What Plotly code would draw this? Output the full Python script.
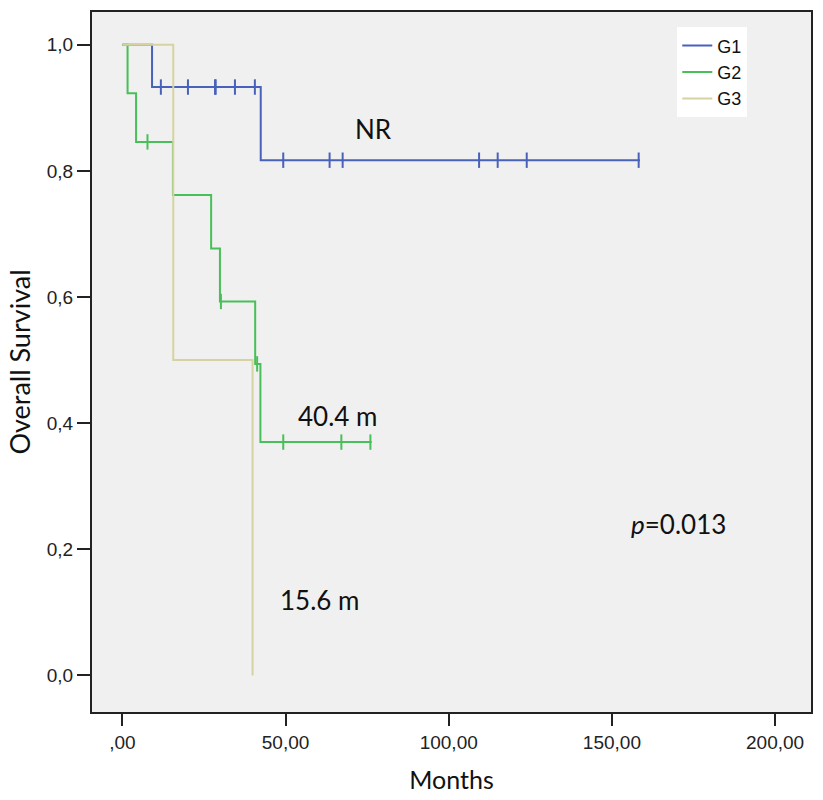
import plotly.graph_objects as go
import numpy as np

# ---- data ----
groups = ["G1", "G2", "G3"]
colors = ["#4861BA", "#48BF58", "#D6D2A2"]

# step curves: times where survival changes, and survival after each step
g1_times = [0.0, 9.1, 42.4, 158.6]
g1_surv = [1.0, 0.933, 0.817, 0.817]
g1_censor = [11.8, 20.1, 28.4, 28.6, 34.5, 40.6, 49.3, 63.5, 67.5, 109.3, 115.0, 123.9, 158.2]

g2_times = [0.0, 1.6, 4.2, 15.5, 27.2, 29.9, 40.7, 42.3, 76.4]
g2_surv = [1.0, 0.923, 0.846, 0.762, 0.677, 0.593, 0.494, 0.370, 0.370]
g2_censor = [7.7, 30.2, 41.3, 49.3, 67.1, 76.0]

g3_times = [0.0, 15.6, 39.9]
g3_surv = [1.0, 0.5, 0.0]
g3_censor = []

x_tickvals = [0, 50, 100, 150, 200]
x_ticktext = [",00", "50,00", "100,00", "150,00", "200,00"]
y_tickvals = [0.0, 0.2, 0.4, 0.6, 0.8, 1.0]
y_ticktext = ["0,0", "0,2", "0,4", "0,6", "0,8", "1,0"]

annotations_text = ["NR", "40.4 m", "15.6 m", "<i>p</i>=0.013"]
annotations_x = [76.9, 66.0, 60.4, 170.5]
annotations_y = [0.866, 0.412, 0.119, 0.240]

series = [
    (g1_times, g1_surv, g1_censor),
    (g2_times, g2_surv, g2_censor),
    (g3_times, g3_surv, g3_censor),
]


def surv_at(times, surv, t):
    idx = np.searchsorted(np.array(times), t, side="right") - 1
    return surv[max(idx, 0)]


fig = go.Figure()
for name, col, (t, s, c) in zip(groups, colors, series):
    fig.add_trace(go.Scatter(
        x=t, y=s, mode="lines", line=dict(shape="hv", color=col, width=2),
        name=name, showlegend=True,
    ))
for name, col, (t, s, c) in zip(groups, colors, series):
    if c:
        fig.add_trace(go.Scatter(
            x=c, y=[surv_at(t, s, ci) for ci in c], mode="markers",
            marker=dict(symbol="line-ns", size=11, line=dict(color=col, width=2)),
            showlegend=False, hoverinfo="skip", name=name,
        ))

for txt, ax, ay in zip(annotations_text, annotations_x, annotations_y):
    fig.add_annotation(x=ax, y=ay, text=txt, showarrow=False,
                       font=dict(family="Lato", size=26, color="#111111"),
                       xanchor="center", yanchor="middle")

fig.update_layout(
    width=823, height=800,
    margin=dict(l=92, r=11, t=10, b=86),
    paper_bgcolor="white",
    plot_bgcolor="#F0F0F0",
    showlegend=True,
    legend=dict(
        x=0.814, y=0.978, xanchor="left", yanchor="top",
        bgcolor="white", borderwidth=0,
        font=dict(family="Liberation Sans", size=18, color="#111111"),
        tracegroupgap=0, itemwidth=30,
    ),
    xaxis=dict(
        range=[-9.3, 211], tickvals=x_tickvals, ticktext=x_ticktext,
        showgrid=False, zeroline=False,
        showline=True, linecolor="#222222", linewidth=2, mirror=True,
        ticks="outside", ticklen=12, tickwidth=2, tickcolor="#222222",
        tickfont=dict(family="Liberation Sans", size=19, color="#222222"),
        title=dict(text="Months", font=dict(family="Lato", size=25, color="#111111"), standoff=20),
    ),
    yaxis=dict(
        range=[-0.058, 1.052], tickvals=y_tickvals, ticktext=y_ticktext,
        showgrid=False, zeroline=False,
        showline=True, linecolor="#222222", linewidth=2, mirror=True,
        ticks="outside", ticklen=13, tickwidth=2, tickcolor="#222222",
        tickfont=dict(family="Liberation Sans", size=19, color="#222222"),
        title=dict(text="Overall Survival", font=dict(family="Lato", size=27, color="#111111"), standoff=8),
    ),
)

fig.write_html("out.html")
